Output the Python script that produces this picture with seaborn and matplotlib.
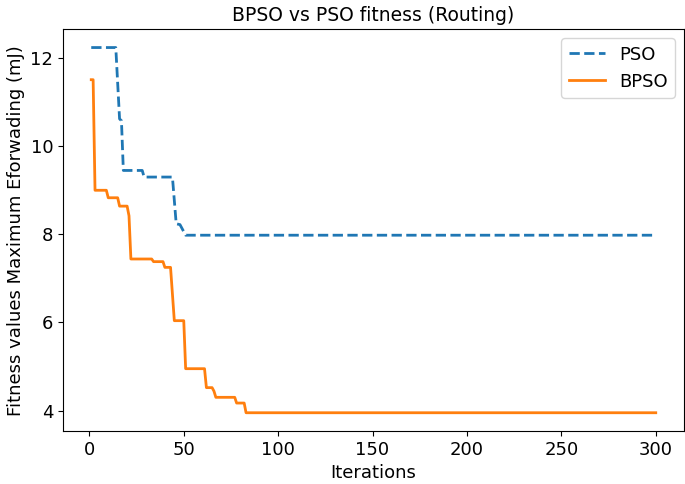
import pandas as pd
import matplotlib
matplotlib.use("Agg")
import matplotlib.pyplot as plt
import seaborn as sns

# Pontos de quebra das curvas (iteração, fitness)
pso_iter = [1, 14, 16, 17, 18, 28, 29, 44, 46, 48, 51, 300]
pso_fit = [12.24, 12.24, 10.62, 10.58, 9.45, 9.45, 9.30, 9.30, 8.24, 8.22, 7.98, 7.98]

bpso_iter = [1, 2, 3, 9, 10, 15, 16, 20, 21, 22, 33, 34, 39, 40, 43, 45,
             50, 51, 61, 62, 65, 66, 67, 77, 78, 82, 83, 300]
bpso_fit = [11.51, 11.51, 9.0, 9.0, 8.83, 8.83, 8.64, 8.64, 8.42, 7.44, 7.44, 7.38,
            7.38, 7.25, 7.25, 6.04, 6.04, 4.95, 4.95, 4.52, 4.52, 4.44, 4.30, 4.30,
            4.17, 4.17, 3.95, 3.95]

df_pso = pd.DataFrame({"Iterations": pso_iter, "fitness": pso_fit})
df_bpso = pd.DataFrame({"Iterations": bpso_iter, "fitness": bpso_fit})

fig = plt.figure(figsize=(6.85, 4.84), dpi=100)
ax = fig.add_axes([0.092, 0.1095, 0.9065, 0.83])

sns.lineplot(data=df_pso, x="Iterations", y="fitness", ax=ax, color="#1f77b4",
             linestyle="--", linewidth=2, label="PSO", estimator=None)
sns.lineplot(data=df_bpso, x="Iterations", y="fitness", ax=ax, color="#ff7f0e",
             linewidth=2, label="BPSO", estimator=None)

ax.set_xticks([0, 50, 100, 150, 200, 250, 300])
ax.set_yticks([4, 6, 8, 10, 12])
ax.tick_params(labelsize=13)
ax.set_xlabel("Iterations", fontsize=13)
ax.set_ylabel("Fitness values Maximum Eforwading (mJ)", fontsize=13)
ax.set_title("BPSO vs PSO fitness (Routing)", fontsize=13.5)
ax.legend(loc="upper right", fontsize=13)

plt.savefig("out.png", dpi=100)
